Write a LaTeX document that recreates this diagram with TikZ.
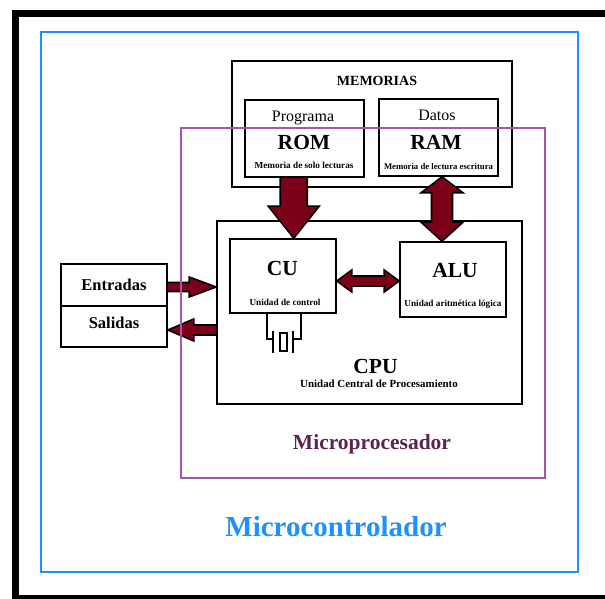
\documentclass[tikz,border=0pt]{standalone}
\usepackage{fontspec}
\setmainfont{Liberation Serif}
\usetikzlibrary{calc}
\definecolor{granate}{RGB}{124,0,24}
\definecolor{azul}{RGB}{30,144,255}
\definecolor{morado}{RGB}{165,85,170}
\definecolor{moradotxt}{RGB}{90,35,80}
\begin{document}
\begin{tikzpicture}[x=1pt,y=1pt,
  caja/.style={draw, line width=1.6pt, inner sep=0pt},
  flecha/.style={fill=granate, draw=black, line width=1.6pt, line join=miter},
  cristal/.style={line width=1.5pt},
  txt/.style={anchor=base, inner sep=0pt},
  grande/.style={txt, font=\bfseries\fontsize{21.5}{24}\selectfont},
  chico/.style={txt, font=\bfseries\fontsize{9.2}{11}\selectfont},
  normal/.style={txt, font=\fontsize{16}{18}\selectfont},
  es/.style={txt, font=\bfseries\fontsize{16.5}{19}\selectfont}]
\useasboundingbox (0,0) rectangle (605,599);
%%%%%%%%%%%%%%%%%%%%%%%%%%%%%%% marco
\draw[line width=7pt] (15,0.5) rectangle (640,585.5);
\node[draw=azul, line width=1.8pt, minimum width=537, minimum height=540] (mc) at (309.5,297){};
%%%%%%%%%%%%%%%%%%%%%%%%%%%%%%% cajas
\node[caja, minimum width=280, minimum height=126] (mem) at (372,475){};
\node[caja, minimum width=119, minimum height=77] (rom) at (304.5,460.5){};
\node[caja, minimum width=119, minimum height=77] (ram) at (438.5,461.5){};
\node[caja, minimum width=305, minimum height=183] (cpu) at (369.5,286.5){};
\node[caja, minimum width=106, minimum height=74] (cu) at (283,323){};
\node[caja, minimum width=106, minimum height=75] (alu) at (453,319.5){};
\node[caja, minimum width=106, minimum height=42] (ent) at (114,314){};
\node[caja, minimum width=106, minimum height=41] (sal) at (114,272.5){};
%%%%%%%%%%%%%%%%%%%%%%%%%%%%%%% textos
\node[txt, font=\bfseries\fontsize{14}{16}\selectfont] (tmem) at (377,513){MEMORIAS};
\node[normal] (tprog) at (303,477){Programa};
\node[grande] (trom) at (304,449){ROM};
\node[chico] (srom) at (304,430){Memoria de solo lecturas};
\node[normal] (tdat) at (437,478){Datos};
\node[grande] (tram) at (436,449){RAM};
\node[chico, font=\bfseries\fontsize{8.7}{10}\selectfont] (sram) at (438.5,429){Memoria de lectura escritura};
\node[grande] (tcu) at (282.5,323){CU};
\node[chico] (scu) at (285,293){Unidad de control};
\node[grande] (talu) at (455,321.5){ALU};
\node[chico] (salu) at (453,292){Unidad aritmética lógica};
\node[grande] (tcpu) at (375.5,225){CPU};
\node[txt, font=\bfseries\fontsize{10.9}{13}\selectfont] (scpu) at (379,211){Unidad Central de Procesamiento};
\node[es] (tent) at (114,308.5){Entradas};
\node[es] (tsal) at (114,270){Salidas};
\node[txt, text=moradotxt, font=\bfseries\fontsize{21.5}{24}\selectfont] (tmp) at (372,149){Microprocesador};
\node[txt, text=azul, font=\bfseries\fontsize{29}{32}\selectfont] (tmc) at (336,62){Microcontrolador};
%%%%%%%%%%%%%%%%%%%%%%%%%%%%%%% cristal
\draw[cristal] (cu.south) ++(-16,0) -- ++(0,-25) -- ++(6,0) ++(0,8) -- ++(0,-22);
\draw[cristal] (cu.south) ++(18,0) -- ++(0,-25) -- ++(-8,0) ++(0,8) -- ++(0,-22);
\draw[cristal] ($(cu.south)+(-3,-19)$) rectangle ++(7,-18);
%%%%%%%%%%%%%%%%%%%%%%%%%%%%%%% flechas
\coordinate (e1) at ($(rom.south)!.5!(cu.north)$);
\coordinate (e2) at (442,0);
\coordinate (e3) at (0,318);
\coordinate (e4) at (0,312);
\coordinate (e5) at (0,269);
\draw[flecha] ($(e1|-rom.south)+(-13.5,0)$) -- ($(e1|-cu.north)+(-13.5,32)$) -- ++(-12,0) -- (e1|-cu.north) -- ++(25.5,32) -- ++(-12,0) -- ($(e1|-rom.south)+(13.5,0)$);
\draw[flecha] (e2|-ram.south) -- ++(21,-16) -- ++(-10.5,0) -- ($(e2|-alu.north)+(10.5,19)$) -- ++(10.5,0) -- (e2|-alu.north) -- ++(-21,19) -- ++(10.5,0) -- ($(e2|-ram.south)+(-10.5,-16)$) -- ++(-10.5,0) -- cycle;
\draw[flecha] (cu.east|-e3) -- ++(15,11) -- ++(0,-6) -- ($(alu.west|-e3)+(-15,5)$) -- ++(0,6) -- (alu.west|-e3) -- ++(-15,-11) -- ++(0,6) -- ($(cu.east|-e3)+(15,-5)$) -- ++(0,-6) -- cycle;
\draw[flecha] ($(ent.east|-e4)+(0,4.5)$) -- ($(cpu.west|-e4)+(-27,4.5)$) -- ++(0,5.5) -- (cpu.west|-e4) -- ++(-27,-10) -- ++(0,5.5) -- ($(ent.east|-e4)+(0,-4.5)$);
\draw[flecha] ($(cpu.west|-e5)+(0,5)$) -- ($(sal.east|-e5)+(26,5)$) -- ++(0,6) -- (sal.east|-e5) -- ++(26,-11) -- ++(0,6) -- ($(cpu.west|-e5)+(0,-5)$);
%%%%%%%%%%%%%%%%%%%%%%%%%%%%%%% microprocesador
\node[draw=morado, line width=1.8pt, minimum width=364, minimum height=350] (mp) at (363,296){};
\end{tikzpicture}
\end{document}
